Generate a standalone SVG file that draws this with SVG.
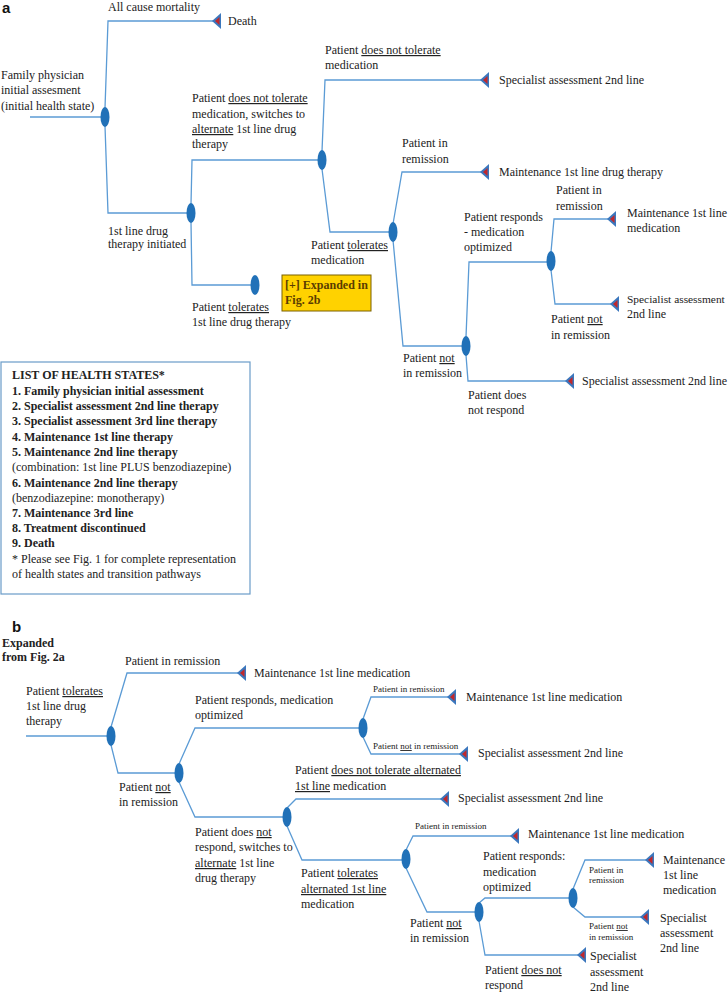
<svg xmlns="http://www.w3.org/2000/svg" width="728" height="993" viewBox="0 0 728 993">
<style>
.t{font-family:"Liberation Serif",serif;font-size:12px;fill:#222}
.s{font-size:9px}
.b{font-weight:bold}
.u{text-decoration:underline}
.h{font-family:"Liberation Sans",sans-serif;font-size:15px;font-weight:bold;fill:#111}
.c{fill:none;stroke:#5b9bd5;stroke-width:1.3}
.n{fill:#2171b8}
</style>
<defs>
<g id="tri"><polygon points="0,0 9,-8 9,8" fill="#3b77bd"/><polygon points="3,0 7.5,-4 7.5,4" fill="#c0282d"/></g>
</defs>
<rect width="728" height="993" fill="#fff"/>
<text class="h" x="2" y="13">a</text>
<text class="h" x="12" y="632">b</text>

<g id="connectors">
<path class="c" d="M30,117 H101"/>
<path class="c" d="M105,108 L108,21 H213"/>
<path class="c" d="M105,126 L108,213 H187"/>
<path class="c" d="M191,204 L192,160 H318"/>
<path class="c" d="M191,222 L192,285 H251"/>
<path class="c" d="M322,151 L325,80 H481"/>
<path class="c" d="M322,169 L330,232 H389"/>
<path class="c" d="M393,224 L402,172 H481"/>
<path class="c" d="M393,240 L403,346 H462"/>
<path class="c" d="M466,337 L469,262 H547"/>
<path class="c" d="M466,355 L468,381 H566"/>
<path class="c" d="M551,252 L554,219 H608"/>
<path class="c" d="M551,270 L555,304 H611"/>

<path class="c" d="M26,736 H107"/>
<path class="c" d="M111,727 L127,673 H238"/>
<path class="c" d="M111,745 L118,773 H175"/>
<path class="c" d="M179,764 L195,728 H359"/>
<path class="c" d="M363,719 L371,697 H448"/>
<path class="c" d="M363,737 L371,754 H460"/>
<path class="c" d="M179,782 L195,817 H283"/>
<path class="c" d="M287,808 L296,799 H441"/>
<path class="c" d="M287,826 L302,860 H402"/>
<path class="c" d="M406,850 L413,836 H511"/>
<path class="c" d="M406,868 L427,912 H475"/>
<path class="c" d="M479,903 L485,898 H569"/>
<path class="c" d="M573,889 L585,860 H646"/>
<path class="c" d="M573,907 L585,917 H641"/>
<path class="c" d="M479,921 L485,955 H578"/>
</g>

<!-- Part a -->
<g id="a_start"><text class="t" x="1" y="79">Family physician</text><text class="t" x="1" y="94">initial assesment</text><text class="t" x="1" y="110">(initial health state)</text></g>
<g id="a_n1"><ellipse class="n" cx="105" cy="117" rx="4.5" ry="10"/></g>
<g id="a_death"><text class="t" x="108" y="11">All cause mortality</text><use href="#tri" x="212" y="21"/><text class="t" x="228" y="25">Death</text></g>
<g id="a_n2"><ellipse class="n" cx="191" cy="213" rx="4.5" ry="10"/><text class="t" x="108" y="235">1st line drug</text><text class="t" x="108" y="248">therapy initiated</text></g>
<g id="a_n3"><ellipse class="n" cx="322" cy="160" rx="4.5" ry="10"/>
<text class="t" x="192" y="102">Patient <tspan class="u">does not tolerate</tspan></text>
<text class="t" x="192" y="118">medication, switches to</text>
<text class="t" x="192" y="133"><tspan class="u">alternate</tspan> 1st line drug</text>
<text class="t" x="192" y="148">therapy</text></g>
<g id="a_n7"><ellipse class="n" cx="255" cy="285" rx="4.5" ry="10"/>
<text class="t" x="192" y="311">Patient <tspan class="u">tolerates</tspan></text>
<text class="t" x="192" y="326">1st line drug therapy</text></g>
<g id="a_box"><rect x="282" y="275" width="89" height="36" fill="#ffd200" stroke="#7a6000" stroke-width="1"/>
<text class="t b" x="285" y="289" style="fill:#5a3d00">[+] Expanded in</text>
<text class="t b" x="285" y="304" style="fill:#5a3d00">Fig. 2b</text></g>
<g id="a_spec1"><text class="t" x="325" y="54">Patient <tspan class="u">does not tolerate</tspan></text><text class="t" x="325" y="69">medication</text>
<use href="#tri" x="480" y="80"/><text class="t" x="499" y="84">Specialist assessment 2nd line</text></g>
<g id="a_n4"><ellipse class="n" cx="393" cy="232" rx="4.5" ry="10"/>
<text class="t" x="311" y="249">Patient <tspan class="u">tolerates</tspan></text><text class="t" x="311" y="264">medication</text></g>
<g id="a_maint1"><text class="t" x="402" y="147">Patient in</text><text class="t" x="402" y="163">remission</text>
<use href="#tri" x="480" y="172"/><text class="t" x="499" y="176">Maintenance 1st line drug therapy</text></g>
<g id="a_n5"><ellipse class="n" cx="466" cy="346" rx="4.5" ry="10"/>
<text class="t" x="403" y="362">Patient <tspan class="u">not</tspan></text><text class="t" x="403" y="377">in remission</text></g>
<g id="a_n6"><ellipse class="n" cx="551" cy="261" rx="4.5" ry="10"/>
<text class="t" x="464" y="221">Patient responds</text><text class="t" x="464" y="236">- medication</text><text class="t" x="464" y="251">optimized</text></g>
<g id="a_maint2"><text class="t" x="556" y="194">Patient in</text><text class="t" x="556" y="210">remission</text>
<use href="#tri" x="607" y="219"/><text class="t" x="627" y="217">Maintenance 1st line</text><text class="t" x="627" y="232">medication</text></g>
<g id="a_spec2"><use href="#tri" x="610" y="304"/><text class="t" x="627" y="303" style="font-size:11.4px">Specialist assessment</text><text class="t" x="627" y="318">2nd line</text>
<text class="t" x="551" y="323">Patient <tspan class="u">not</tspan></text><text class="t" x="551" y="339">in remission</text></g>
<g id="a_spec3"><use href="#tri" x="565" y="381"/><text class="t" x="582" y="385">Specialist assessment 2nd line</text>
<text class="t" x="468" y="399">Patient does</text><text class="t" x="468" y="414">not respond</text></g>

<g id="legend"><rect x="1" y="362" width="249" height="232" fill="#fff" stroke="#6a9cc8" stroke-width="1.2"/>
<text class="t b" x="12" y="379">LIST OF HEALTH STATES*</text>
<text class="t b" x="12" y="395">1. Family physician initial assessment</text>
<text class="t b" x="12" y="410">2. Specialist assessment 2nd line therapy</text>
<text class="t b" x="12" y="425">3. Specialist assessment 3rd line therapy</text>
<text class="t b" x="12" y="441">4. Maintenance 1st line therapy</text>
<text class="t b" x="12" y="456">5. Maintenance 2nd line therapy</text>
<text class="t" x="12" y="471">(combination: 1st line PLUS benzodiazepine)</text>
<text class="t b" x="12" y="487">6. Maintenance 2nd line therapy</text>
<text class="t" x="12" y="502">(benzodiazepine: monotherapy)</text>
<text class="t b" x="12" y="517">7. Maintenance 3rd line</text>
<text class="t b" x="12" y="532">8. Treatment discontinued</text>
<text class="t b" x="12" y="547">9. Death</text>
<text class="t" x="12" y="563">* Please see Fig. 1 for complete representation</text>
<text class="t" x="12" y="578">of health states and transition pathways</text></g>

<!-- Part b -->
<g id="b_start"><text class="t b" x="2" y="647">Expanded</text><text class="t b" x="2" y="661">from Fig. 2a</text>
<text class="t" x="26" y="695">Patient <tspan class="u">tolerates</tspan></text><text class="t" x="26" y="710">1st line drug</text><text class="t" x="26" y="725">therapy</text></g>
<g id="b_n1"><ellipse class="n" cx="111" cy="736" rx="4.5" ry="10"/></g>
<g id="b_maint1"><text class="t" x="125" y="665">Patient in remission</text><use href="#tri" x="237" y="673"/><text class="t" x="254" y="677">Maintenance 1st line medication</text></g>
<g id="b_n2"><ellipse class="n" cx="179" cy="773" rx="4.5" ry="10"/>
<text class="t" x="119" y="791">Patient <tspan class="u">not</tspan></text><text class="t" x="119" y="806">in remission</text></g>
<g id="b_n3"><ellipse class="n" cx="363" cy="728" rx="4.5" ry="10"/>
<text class="t" x="195" y="704">Patient responds, medication</text><text class="t" x="195" y="719">optimized</text></g>
<g id="b_maint2"><text class="t s" x="373" y="692">Patient in remission</text><use href="#tri" x="447" y="697"/><text class="t" x="466" y="701">Maintenance 1st line medication</text></g>
<g id="b_spec1"><text class="t s" x="373" y="749">Patient <tspan class="u">not</tspan> in remission</text><use href="#tri" x="459" y="754"/><text class="t" x="478" y="757">Specialist assessment 2nd line</text></g>
<g id="b_n4"><ellipse class="n" cx="287" cy="817" rx="4.5" ry="10"/>
<text class="t" x="195" y="836">Patient does <tspan class="u">not</tspan></text><text class="t" x="195" y="851">respond, switches to</text><text class="t" x="195" y="867"><tspan class="u">alternate</tspan> 1st line</text><text class="t" x="195" y="882">drug therapy</text></g>
<g id="b_spec2"><text class="t" x="295" y="774">Patient <tspan class="u">does not tolerate alternated</tspan></text><text class="t" x="295" y="790"><tspan class="u">1st line</tspan> medication</text>
<use href="#tri" x="440" y="799"/><text class="t" x="458" y="802">Specialist assessment 2nd line</text></g>
<g id="b_n5"><ellipse class="n" cx="406" cy="859" rx="4.5" ry="10"/>
<text class="t" x="301" y="877">Patient <tspan class="u">tolerates</tspan></text><text class="t" x="301" y="893"><tspan class="u">alternated 1st line </tspan></text><text class="t" x="301" y="908">medication</text></g>
<g id="b_maint3"><text class="t s" x="415" y="829">Patient in remission</text><use href="#tri" x="510" y="836"/><text class="t" x="528" y="838">Maintenance 1st line medication</text></g>
<g id="b_n6"><ellipse class="n" cx="479" cy="912" rx="4.5" ry="10"/>
<text class="t" x="410" y="927">Patient <tspan class="u">not</tspan></text><text class="t" x="410" y="942">in remission</text></g>
<g id="b_n7"><ellipse class="n" cx="573" cy="898" rx="4.5" ry="10"/>
<text class="t" x="483" y="860">Patient responds:</text><text class="t" x="483" y="876">medication</text><text class="t" x="483" y="891">optimized</text></g>
<g id="b_maint4"><text class="t s" x="589" y="873">Patient in</text><text class="t s" x="589" y="883">remission</text>
<use href="#tri" x="645" y="860"/><text class="t" x="663" y="864">Maintenance</text><text class="t" x="663" y="879">1st line</text><text class="t" x="663" y="894">medication</text></g>
<g id="b_spec3"><text class="t s" x="589" y="929">Patient <tspan class="u">not</tspan></text><text class="t s" x="589" y="940">in remission</text>
<use href="#tri" x="640" y="917"/><text class="t" x="660" y="922">Specialist</text><text class="t" x="660" y="937">assessment</text><text class="t" x="660" y="952">2nd line</text></g>
<g id="b_spec4"><text class="t" x="485" y="974">Patient <tspan class="u">does not</tspan></text><text class="t" x="485" y="989">respond</text>
<use href="#tri" x="577" y="955"/><text class="t" x="590" y="960">Specialist</text><text class="t" x="590" y="976">assessment</text><text class="t" x="590" y="991">2nd line</text></g>
</svg>
